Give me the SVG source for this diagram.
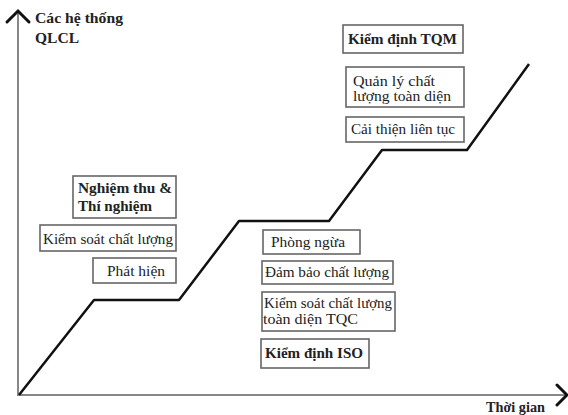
<svg xmlns="http://www.w3.org/2000/svg" width="568" height="415" viewBox="0 0 568 415">
<style>
.box{fill:#fff;stroke:#666;stroke-width:1.6}
.t{font-family:"Liberation Serif",serif;font-size:14px;fill:#222}
.b{font-weight:bold}
.axis{stroke:#888;stroke-width:2;fill:none}
.head{stroke:#111;stroke-width:3;fill:none;stroke-linecap:round;stroke-linejoin:miter}
.step{stroke:#111;stroke-width:2.5;fill:none;stroke-linejoin:round}
</style>
<rect width="568" height="415" fill="#fff"/>
<g id="connectors">
<path class="axis" d="M18 12 V395 H566"/>
<path class="head" d="M7 22 L18 11 L29 22"/>
<path class="head" d="M557 385 L567 395 L557 405"/>
<path class="step" d="M19 395 L94 300 L179 300 L239 221 L329 221 L382 150 L467 150 L529 64"/>
</g>
<g id="axis-y-label">
<text class="t b" x="35" y="23" font-family="Liberation Serif" textLength="88" lengthAdjust="spacingAndGlyphs">Các hệ thống</text>
<text class="t b" x="35" y="43" font-family="Liberation Serif" textLength="44" lengthAdjust="spacingAndGlyphs">QLCL</text>
</g>
<g id="axis-x-label">
<text class="t b" x="486" y="412" font-size="13" textLength="59" lengthAdjust="spacingAndGlyphs">Thời gian</text>
</g>
<g id="kiem-dinh-tqm">
<rect class="box" x="343" y="25" width="120" height="28"/>
<text class="t b" x="348" y="44" textLength="109" lengthAdjust="spacingAndGlyphs">Kiểm định TQM</text>
</g>
<g id="quan-ly-chat-luong">
<rect class="box" x="346" y="67" width="118" height="40"/>
<text class="t" x="353" y="86" textLength="82" lengthAdjust="spacingAndGlyphs">Quản lý chất</text>
<text class="t" x="353" y="101" textLength="98" lengthAdjust="spacingAndGlyphs">lượng toàn diện</text>
</g>
<g id="cai-thien">
<rect class="box" x="346" y="117" width="118" height="25"/>
<text class="t" x="351" y="134" textLength="104" lengthAdjust="spacingAndGlyphs">Cải thiện liên tục</text>
</g>
<g id="nghiem-thu">
<rect class="box" x="73" y="176" width="103" height="42"/>
<text class="t b" x="78" y="193" textLength="94" lengthAdjust="spacingAndGlyphs">Nghiệm thu &amp;</text>
<text class="t b" x="78" y="211" textLength="74" lengthAdjust="spacingAndGlyphs">Thí nghiệm</text>
</g>
<g id="kiem-soat">
<rect class="box" x="40" y="225" width="136" height="26"/>
<text class="t" x="43" y="244" textLength="130" lengthAdjust="spacingAndGlyphs">Kiểm soát chất lượng</text>
</g>
<g id="phat-hien">
<rect class="box" x="93" y="258" width="83" height="25"/>
<text class="t" x="107" y="276" textLength="58" lengthAdjust="spacingAndGlyphs">Phát hiện</text>
</g>
<g id="phong-ngua">
<rect class="box" x="263" y="230" width="97" height="24"/>
<text class="t" x="271" y="247" textLength="74" lengthAdjust="spacingAndGlyphs">Phòng ngừa</text>
</g>
<g id="dam-bao">
<rect class="box" x="262" y="261" width="131" height="23"/>
<text class="t" x="265" y="277" textLength="124" lengthAdjust="spacingAndGlyphs">Đảm bảo chất lượng</text>
</g>
<g id="tqc">
<rect class="box" x="262" y="292" width="133" height="39"/>
<text class="t" x="264" y="308" textLength="128" lengthAdjust="spacingAndGlyphs">Kiểm soát chất lượng</text>
<text class="t" x="263" y="324" textLength="95" lengthAdjust="spacingAndGlyphs">toàn diện TQC</text>
</g>
<g id="kiem-dinh-iso">
<rect class="box" x="261" y="339" width="108" height="29"/>
<text class="t b" x="265" y="358" textLength="98" lengthAdjust="spacingAndGlyphs">Kiểm định ISO</text>
</g>
</svg>
